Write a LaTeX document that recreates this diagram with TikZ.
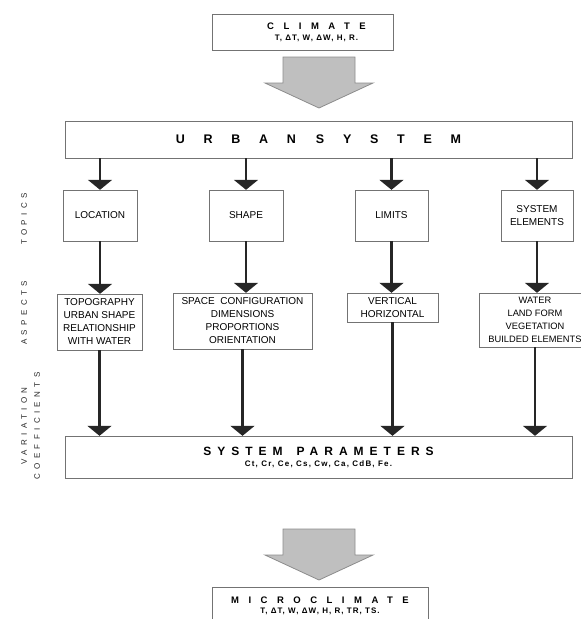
\documentclass[tikz,border=0pt]{standalone}
\usepackage{fontspec}
\setmainfont{Liberation Sans}
\usetikzlibrary{arrows.meta}

\begin{document}
\begin{tikzpicture}[x=1pt, y=-1pt,
  box/.style={draw=black!55, fill=white, align=center, inner sep=1pt, font=\fontsize{10}{13}\selectfont},
  title/.style={box, font=\bfseries},
  side/.style={rotate=90, text=black!85, font=\fontsize{8}{9}\selectfont\addfontfeature{LetterSpace=55}},
  flow/.style={line width=2.2pt, draw=black!85, -{Triangle[width=24pt,length=10pt]}},
  bigarrow/.style={fill=black!25, draw=black!45, line width=0.8pt}]
  \useasboundingbox (0,0) rectangle (581,619);
  \clip (0,0) rectangle (581,619);

  \node[title, minimum width=181, minimum height=36] (climate) at (302.5,32)
    {\hspace*{28pt}{\fontsize{9.5}{11}\selectfont\addfontfeature{LetterSpace=100}CLIMATE}\\[-1pt]
     \hspace*{28pt}{\fontsize{8}{9}\selectfont\addfontfeature{LetterSpace=13}T, ΔT, W, ΔW, H, R.}};
  \node[title, minimum width=507, minimum height=37] (urban) at (318.5,139.5)
    {\fontsize{12.5}{14}\selectfont\addfontfeature{LetterSpace=150}URBAN\hspace{20pt}SYSTEM};

  % topics
  \node[box, minimum width=74, minimum height=51] (location) at (100,215.5) {LOCATION};
  \node[box, minimum width=74, minimum height=51] (shape) at (246,215.5) {SHAPE};
  \node[box, minimum width=73, minimum height=51] (limits) at (391.5,215.5) {LIMITS};
  \node[box, minimum width=72, minimum height=51] (elements) at (537,215.5) {SYSTEM\\ELEMENTS};

  % aspects
  \node[box, minimum width=85, minimum height=56] (topo) at (99.5,322)
    {TOPOGRAPHY\\URBAN SHAPE\\RELATIONSHIP\\WITH WATER};
  \node[box, minimum width=139, minimum height=56] (space) at (242.5,321)
    {SPACE~~CONFIGURATION\\DIMENSIONS\\PROPORTIONS\\ORIENTATION};
  \node[box, minimum width=91, minimum height=29] (vert) at (392.5,307.5)
    {VERTICAL\\HORIZONTAL};
  \node[box, minimum width=112, minimum height=54, font=\fontsize{9.3}{13}\selectfont] (water) at (535,320)
    {WATER\\LAND FORM\\VEGETATION\\BUILDED ELEMENTS};

  \node[title, minimum width=507, minimum height=42] (params) at (318.5,457)
    {{\fontsize{12}{14}\selectfont\addfontfeature{LetterSpace=50}SYSTEM\hspace{14pt}PARAMETERS}\\[-1pt]
     {\fontsize{8}{9}\selectfont\addfontfeature{LetterSpace=15}Ct, Cr, Ce, Cs, Cw, Ca, CdB, Fe.}};
  \node[title, minimum width=216, minimum height=38] (micro) at (320,606)
    {{\fontsize{9.5}{11}\selectfont\addfontfeature{LetterSpace=100}MICROCLIMATE}\\[-2pt]
     {\fontsize{8}{9}\selectfont\addfontfeature{LetterSpace=13}T, ΔT, W, ΔW, H, R, TR, TS.}};

  % row labels
  \node[side] (topics) at (24,219) {TOPICS};
  \node[side] (aspects) at (24,313) {ASPECTS};
  \node[side] (variation) at (24,426) {VARIATION};
  \node[side] (coeffs) at (37,426) {COEFFICIENTS};

  % big grey arrows
  \foreach \ytop in {57,529}
    \draw[bigarrow] (283,\ytop) -- (355,\ytop) -- (355,\ytop+26) -- (373,\ytop+26)
      -- (319,\ytop+51) -- (265,\ytop+26) -- (283,\ytop+26) -- cycle;

  \foreach \t/\a in {location/topo, shape/space, limits/vert, elements/water} {
    \draw[flow] (\t.north |- urban.south) -- (\t.north);
    \draw[flow] (\t.south) -- (\t.south |- \a.north);
    \draw[flow] (\a.south) -- (\a.south |- params.north);
  }
\end{tikzpicture}
\end{document}
